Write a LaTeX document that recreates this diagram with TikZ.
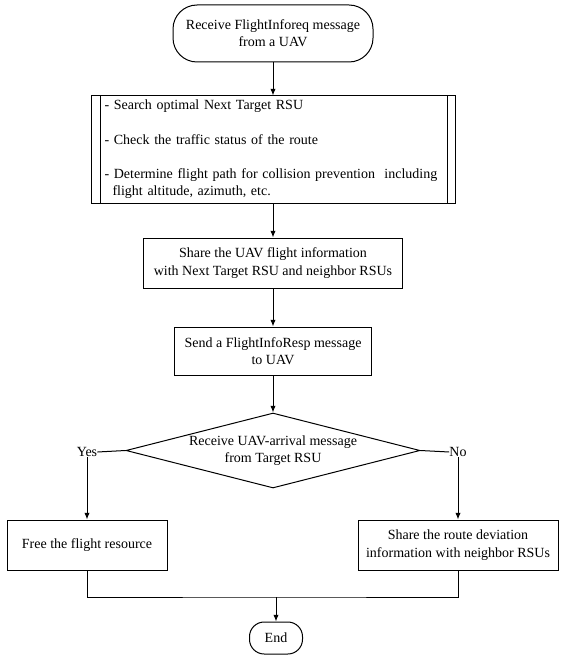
\documentclass[tikz,border=0pt]{standalone}
\usepackage{fontspec}
\setmainfont{Liberation Serif}
\usetikzlibrary{shapes.geometric,arrows.meta}

\tikzset{
  proc/.style={draw, rectangle, line width=0.75pt, align=center, inner sep=0pt},
  term/.style={proc, rounded corners=#1},
  label/.style={inner sep=0pt},
  flow/.style={line width=0.75pt, -{Latex[length=5pt,width=4pt]}},
  link/.style={line width=0.75pt}
}

\begin{document}
\begin{tikzpicture}[x=0.75pt,y=0.75pt,yscale=-1,xscale=1, font=\fontsize{10.5}{13}\selectfont]
		\useasboundingbox (0,0) rectangle (561,663);
		
		%Shape: Terminal
		\node (start) at (273,33.5) [term=18pt, minimum width=150pt, minimum height=42.75pt] {Receive FlightInforeq message\\from a UAV};
		%Shape: Predefined Process
		\node (search) at (273.5,149.5) [proc, align=left, text width=253.5pt, inner xsep=9.75pt, minimum height=80.25pt] {- Search optimal Next Target RSU\\[12.75pt]- Check the traffic status of the route\\[12.75pt]- Determine flight path for collision prevention\ \ including\\\hspace*{6pt}flight altitude, azimuth, etc.};
		\draw [link] ([xshift=6.75pt]search.north west) -- ([xshift=6.75pt]search.south west);
		\draw [link] ([xshift=-6.75pt]search.north east) -- ([xshift=-6.75pt]search.south east);
		%Shape: Rectangle
		\node (share) at (273,263) [proc, minimum width=194.25pt, minimum height=37.5pt] {Share the UAV flight information\\with Next Target RSU and neighbor RSUs};
		%Shape: Rectangle
		\node (send) at (273,351) [proc, minimum width=147.75pt, minimum height=36pt] {Send a FlightInfoResp message\\to UAV};
		%Shape: Diamond
		\node (arrival) at (273,450.5) [proc, diamond, aspect=3.92, minimum width=220.5pt, minimum height=56.25pt] {Receive UAV-arrival message\\from Target RSU};
		% Text Node
		\node (yes) at (87,452) [label] {Yes};
		\node (no) at (458,452) [label] {No};
		%Shape: Rectangle
		\node (free) at (87,545) [proc, minimum width=120pt, minimum height=37.5pt] {Free the flight resource};
		%Shape: Rectangle
		\node (deviation) at (458,545) [proc, minimum width=150pt, minimum height=37.5pt] {Share the route deviation\\information with neighbor RSUs};
		%Shape: Terminal
		\node (finish) at (276,638) [term=11pt, minimum width=39.75pt, minimum height=24pt] {End};
		\coordinate (merge) at (276,597);
		
		% Connection
		\draw [flow] (start) -- (start |- search.north);
		\draw [flow] (search.south -| share) -- (share);
		\draw [flow] (share) -- (send);
		\draw [flow] (send) -- (arrival.north);
		% Connection
		\draw [link] (arrival.west) -- (yes.east);
		\draw [flow] (yes) -- (free);
		\draw [link] (arrival.east) -- (no.west);
		\draw [flow] (no) -- (deviation);
		% Connection
		\draw [link] (free.south) |- (merge) -| (deviation.south);
		\draw [flow] (merge) -- (finish.north);
	\end{tikzpicture}
\end{document}
